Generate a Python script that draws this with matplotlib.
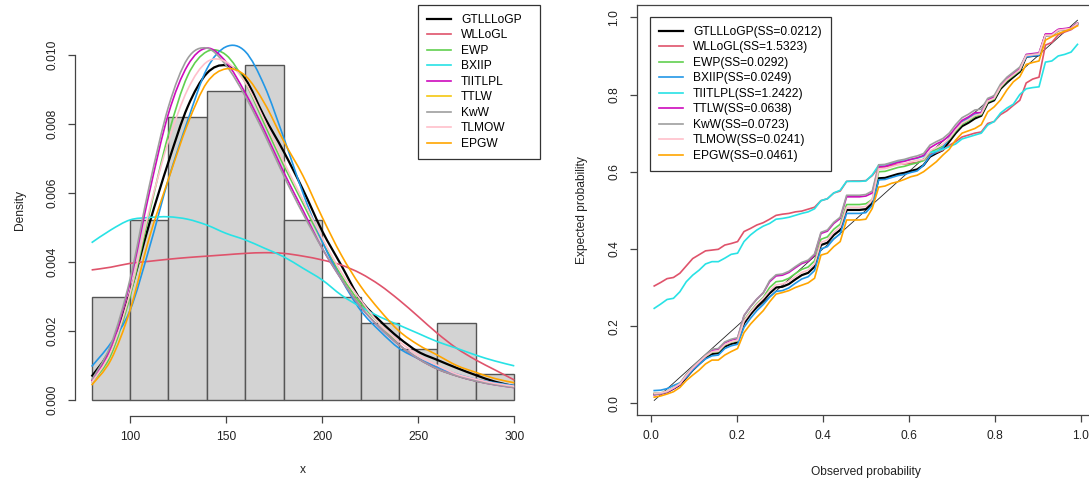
import matplotlib.pyplot as plt
import numpy as np
from matplotlib.path import Path
from matplotlib.patches import PathPatch
from matplotlib.lines import Line2D

plt.rcParams['font.family'] = ['Liberation Sans', 'DejaVu Sans']
FS = 8.64

# ---- histogram of the data (n = 67) ----
bin_edges = [80, 100, 120, 140, 160, 180, 200, 220, 240, 260, 280, 300]
bin_counts = [4, 7, 11, 12, 13, 7, 4, 3, 2, 3, 1]

# ---- fitted densities, evaluated on x = 80, 90, ..., 300 ----
grid_x = [80, 90, 100, 110, 120, 130, 140, 150, 160, 170, 180, 190,
          200, 210, 220, 230, 240, 250, 260, 270, 280, 290, 300]
dens_gtlllogp = [0.00068, 0.00150, 0.0031, 0.0051, 0.0069, 0.0085, 0.00947, 0.0097,
                 0.0093, 0.0082, 0.0072, 0.0061, 0.0049, 0.0039, 0.0029, 0.0023,
                 0.0018, 0.0014, 0.00116, 0.00093, 0.00072, 0.00053, 0.0004]
dens_wllogl = [0.00377, 0.00385, 0.00396, 0.00402, 0.00408, 0.00413, 0.00417, 0.00421,
               0.00425, 0.00427, 0.00425, 0.00417, 0.00406, 0.00391, 0.00367, 0.00333,
               0.0029, 0.00242, 0.00193, 0.0015, 0.00116, 0.00087, 0.00058]
dens_ewp = [0.0005, 0.0013, 0.0030, 0.0054, 0.0077, 0.0094, 0.0101, 0.0100,
            0.0092, 0.0080, 0.0068, 0.0057, 0.0046, 0.0036, 0.0028, 0.0022,
            0.0016, 0.0012, 0.0009, 0.0007, 0.00055, 0.00045, 0.00038]
dens_bxiip = [0.00097, 0.00165, 0.0026, 0.0044, 0.0064, 0.0081, 0.0096, 0.01024,
              0.0101, 0.0091, 0.0076, 0.0060, 0.0046, 0.0035, 0.0026, 0.0020,
              0.0015, 0.0012, 0.00095, 0.00075, 0.0006, 0.0005, 0.00042]
dens_tiitlpl = [0.00456, 0.00493, 0.00522, 0.00529, 0.00531, 0.00524, 0.00507, 0.00483,
                0.00464, 0.0044, 0.00415, 0.00382, 0.00348, 0.00304, 0.0027, 0.00241,
                0.00217, 0.00193, 0.00169, 0.0015, 0.0013, 0.00113, 0.00099]
dens_ttlw = [0.00055, 0.0015, 0.0034, 0.0060, 0.0083, 0.0097, 0.0102, 0.0098,
             0.0089, 0.0078, 0.0066, 0.0055, 0.0044, 0.0035, 0.0027, 0.0021,
             0.0016, 0.0012, 0.0009, 0.0007, 0.00055, 0.00044, 0.00036]
dens_kww = [0.00058, 0.0016, 0.0035, 0.0062, 0.0085, 0.0099, 0.0102, 0.0097,
            0.0088, 0.0077, 0.0065, 0.0054, 0.0044, 0.0035, 0.0027, 0.0021,
            0.0016, 0.0012, 0.0009, 0.0007, 0.00055, 0.00044, 0.00036]
dens_tlmow = [0.0005, 0.0014, 0.0031, 0.0055, 0.0075, 0.0090, 0.0098, 0.0098,
              0.0092, 0.0081, 0.0069, 0.0058, 0.0047, 0.0037, 0.0029, 0.0022,
              0.0017, 0.0013, 0.0010, 0.00075, 0.0006, 0.00048, 0.0004]
dens_epgw = [0.00043, 0.00116, 0.0026, 0.0047, 0.0064, 0.0080, 0.0092, 0.0096,
             0.0094, 0.0086, 0.0075, 0.0065, 0.0053, 0.0042, 0.0033, 0.0026,
             0.0020, 0.0016, 0.0013, 0.0010, 0.0008, 0.00062, 0.0005]

# ---- P-P plot: fitted cdf at the ordered sample ----
pp_gtlllogp = [0.024, 0.025, 0.029, 0.038, 0.048, 0.067, 0.086, 0.102, 0.117, 0.128,
               0.130, 0.147, 0.154, 0.158, 0.207, 0.230, 0.250, 0.266, 0.285, 0.300,
               0.302, 0.309, 0.321, 0.332, 0.338, 0.354, 0.410, 0.416, 0.436, 0.449,
               0.501, 0.501, 0.501, 0.503, 0.518, 0.583, 0.584, 0.589, 0.594, 0.597,
               0.602, 0.606, 0.617, 0.639, 0.648, 0.656, 0.678, 0.700, 0.718, 0.727,
               0.738, 0.745, 0.778, 0.785, 0.815, 0.833, 0.846, 0.859, 0.898, 0.900,
               0.902, 0.954, 0.954, 0.967, 0.969, 0.971, 0.984]
pp_wllogl = [0.304, 0.313, 0.323, 0.326, 0.337, 0.356, 0.375, 0.385, 0.395, 0.397,
             0.399, 0.410, 0.414, 0.419, 0.445, 0.453, 0.462, 0.468, 0.477, 0.487,
             0.490, 0.492, 0.496, 0.498, 0.503, 0.508, 0.525, 0.530, 0.545, 0.550,
             0.575, 0.576, 0.576, 0.577, 0.590, 0.612, 0.613, 0.616, 0.619, 0.620,
             0.622, 0.624, 0.630, 0.645, 0.650, 0.656, 0.668, 0.678, 0.690, 0.695,
             0.700, 0.703, 0.725, 0.730, 0.748, 0.758, 0.772, 0.785, 0.830, 0.840,
             0.845, 0.928, 0.935, 0.955, 0.962, 0.968, 0.980]
pp_ewp = [0.026, 0.027, 0.031, 0.040, 0.050, 0.071, 0.090, 0.106, 0.121, 0.132,
          0.134, 0.151, 0.158, 0.162, 0.215, 0.238, 0.258, 0.274, 0.300, 0.315,
          0.317, 0.324, 0.336, 0.347, 0.353, 0.369, 0.425, 0.431, 0.451, 0.464,
          0.515, 0.515, 0.515, 0.517, 0.528, 0.600, 0.601, 0.606, 0.611, 0.614,
          0.619, 0.623, 0.629, 0.650, 0.658, 0.666, 0.684, 0.705, 0.723, 0.732,
          0.743, 0.748, 0.781, 0.788, 0.818, 0.836, 0.849, 0.862, 0.900, 0.902,
          0.904, 0.954, 0.955, 0.967, 0.969, 0.972, 0.983]
pp_bxiip = [0.033, 0.034, 0.038, 0.046, 0.053, 0.067, 0.086, 0.101, 0.115, 0.123,
            0.125, 0.142, 0.149, 0.153, 0.197, 0.220, 0.240, 0.256, 0.275, 0.290,
            0.292, 0.299, 0.311, 0.322, 0.328, 0.344, 0.400, 0.406, 0.426, 0.439,
            0.492, 0.492, 0.492, 0.494, 0.513, 0.579, 0.580, 0.585, 0.590, 0.593,
            0.598, 0.602, 0.617, 0.641, 0.652, 0.662, 0.688, 0.710, 0.729, 0.739,
            0.749, 0.754, 0.786, 0.793, 0.822, 0.840, 0.853, 0.866, 0.898, 0.900,
            0.902, 0.953, 0.954, 0.966, 0.969, 0.971, 0.983]
pp_tiitlpl = [0.246, 0.257, 0.269, 0.272, 0.289, 0.315, 0.332, 0.345, 0.361, 0.367,
              0.367, 0.376, 0.386, 0.389, 0.419, 0.436, 0.449, 0.459, 0.466, 0.477,
              0.479, 0.482, 0.487, 0.492, 0.496, 0.504, 0.525, 0.530, 0.545, 0.552,
              0.575, 0.575, 0.575, 0.576, 0.592, 0.617, 0.618, 0.622, 0.626, 0.629,
              0.632, 0.635, 0.640, 0.650, 0.653, 0.658, 0.665, 0.672, 0.685, 0.690,
              0.695, 0.700, 0.721, 0.730, 0.752, 0.765, 0.775, 0.800, 0.815, 0.818,
              0.820, 0.884, 0.887, 0.900, 0.904, 0.910, 0.930]
pp_ttlw = [0.022, 0.024, 0.029, 0.038, 0.049, 0.072, 0.091, 0.107, 0.122, 0.138,
           0.140, 0.157, 0.164, 0.168, 0.227, 0.250, 0.270, 0.286, 0.315, 0.330,
           0.332, 0.339, 0.351, 0.362, 0.368, 0.384, 0.440, 0.446, 0.466, 0.479,
           0.535, 0.535, 0.535, 0.537, 0.545, 0.613, 0.614, 0.619, 0.624, 0.627,
           0.632, 0.636, 0.642, 0.662, 0.672, 0.680, 0.693, 0.714, 0.733, 0.742,
           0.753, 0.753, 0.786, 0.793, 0.823, 0.841, 0.854, 0.867, 0.904, 0.906,
           0.908, 0.957, 0.957, 0.969, 0.971, 0.973, 0.985]
pp_kww = [0.023, 0.025, 0.030, 0.040, 0.052, 0.075, 0.094, 0.110, 0.125, 0.140,
          0.142, 0.159, 0.166, 0.170, 0.227, 0.250, 0.270, 0.286, 0.318, 0.333,
          0.335, 0.342, 0.354, 0.365, 0.371, 0.387, 0.443, 0.449, 0.469, 0.482,
          0.539, 0.539, 0.539, 0.541, 0.550, 0.618, 0.619, 0.624, 0.629, 0.632,
          0.637, 0.641, 0.647, 0.669, 0.678, 0.686, 0.700, 0.722, 0.740, 0.749,
          0.760, 0.762, 0.790, 0.797, 0.827, 0.845, 0.858, 0.871, 0.902, 0.904,
          0.906, 0.952, 0.953, 0.965, 0.968, 0.971, 0.984]
pp_tlmow = [0.026, 0.027, 0.031, 0.040, 0.050, 0.072, 0.091, 0.107, 0.122, 0.133,
            0.135, 0.152, 0.159, 0.163, 0.213, 0.236, 0.256, 0.272, 0.292, 0.307,
            0.309, 0.316, 0.328, 0.339, 0.345, 0.361, 0.417, 0.423, 0.443, 0.456,
            0.508, 0.508, 0.508, 0.510, 0.528, 0.607, 0.608, 0.613, 0.618, 0.621,
            0.626, 0.630, 0.632, 0.654, 0.663, 0.671, 0.686, 0.708, 0.726, 0.735,
            0.746, 0.750, 0.783, 0.790, 0.820, 0.838, 0.851, 0.864, 0.901, 0.903,
            0.905, 0.954, 0.954, 0.967, 0.969, 0.971, 0.984]
pp_epgw = [0.016, 0.019, 0.024, 0.030, 0.041, 0.059, 0.073, 0.086, 0.102, 0.112,
           0.112, 0.125, 0.134, 0.142, 0.183, 0.205, 0.223, 0.240, 0.263, 0.283,
           0.287, 0.292, 0.300, 0.306, 0.312, 0.324, 0.384, 0.389, 0.406, 0.419,
           0.475, 0.475, 0.475, 0.477, 0.505, 0.560, 0.563, 0.570, 0.574, 0.580,
           0.587, 0.591, 0.600, 0.613, 0.626, 0.643, 0.658, 0.682, 0.700, 0.706,
           0.712, 0.722, 0.755, 0.768, 0.786, 0.812, 0.833, 0.846, 0.878, 0.883,
           0.887, 0.941, 0.950, 0.958, 0.964, 0.970, 0.978]

models = ['GTLLLoGP', 'WLLoGL', 'EWP', 'BXIIP', 'TIITLPL', 'TTLW', 'KwW', 'TLMOW', 'EPGW']
ss_values = [0.0212, 1.5323, 0.0292, 0.0249, 1.2422, 0.0638, 0.0723, 0.0241, 0.0461]

densities = [dens_gtlllogp, dens_wllogl, dens_ewp, dens_bxiip, dens_tiitlpl,
             dens_ttlw, dens_kww, dens_tlmow, dens_epgw]
pp_curves = [pp_gtlllogp, pp_wllogl, pp_ewp, pp_bxiip, pp_tiitlpl,
             pp_ttlw, pp_kww, pp_tlmow, pp_epgw]

# R palette colours
line_cols = ['#000000', '#DF536B', '#61D04F', '#2297E6', '#28E2E5',
             '#CD0BBC', '#9E9E9E', '#FFC0CB', '#FFA500']
hist_legend_cols = ['#000000', '#DF536B', '#61D04F', '#28E2E5', '#CD0BBC',
                    '#F5C710', '#9E9E9E', '#FFC0CB', '#FFA500']
line_w = [1.6, 1.2, 1.2, 1.2, 1.2, 1.2, 1.2, 1.2, 1.2]
AX_COL = '#444444'


def smooth_curve(ax, xs, ys, **kw):
    # cubic Bezier path through the points (Catmull-Rom tangents)
    xs = np.asarray(xs, float)
    ys = np.asarray(ys, float)
    n = len(xs)
    verts = [(xs[0], ys[0])]
    codes = [Path.MOVETO]
    for k in range(n - 1):
        xa, ya = (xs[k - 1], ys[k - 1]) if k > 0 else (xs[k], ys[k])
        xb, yb = (xs[k + 2], ys[k + 2]) if k + 2 < n else (xs[k + 1], ys[k + 1])
        c1 = (xs[k] + (xs[k + 1] - xa) / 6, ys[k] + (ys[k + 1] - ya) / 6)
        c2 = (xs[k + 1] - (xb - xs[k]) / 6, ys[k + 1] - (yb - ys[k]) / 6)
        verts += [c1, c2, (xs[k + 1], ys[k + 1])]
        codes += [Path.CURVE4] * 3
    ax.add_patch(PathPatch(Path(verts, codes), fill=False, **kw))


W, H = 1089, 482
fig = plt.figure(figsize=(W / 100, H / 100), dpi=100)


def px_rect(x0, y0, x1, y1):
    return [x0 / W, 1 - y1 / H, (x1 - x0) / W, (y1 - y0) / H]


legend_style = dict(fontsize=FS, frameon=True, fancybox=False, framealpha=1,
                    edgecolor='#333333', borderaxespad=0, borderpad=0.75,
                    labelspacing=0.29, handlelength=2.0, handletextpad=0.85)

# ---------------- left: histogram + densities ----------------
ax1 = fig.add_axes(px_rect(74.7, 5, 531.2, 416))
n_obs = sum(bin_counts)
widths = np.diff(bin_edges)
heights = np.array(bin_counts) / (n_obs * widths)
ax1.bar(bin_edges[:-1], heights, width=widths, align='edge',
        color='#D3D3D3', edgecolor='#555555', linewidth=1.0)
for dens, col, lw in zip(densities, line_cols, line_w):
    smooth_curve(ax1, grid_x, dens, edgecolor=col, linewidth=lw, zorder=3)

ax1.set_xlim(71.2, 308.8)
ax1.set_ylim(-0.000464, 0.01145)
ax1.spines['top'].set_visible(False)
ax1.spines['right'].set_visible(False)
ax1.spines['left'].set_bounds(0, 0.010)
ax1.spines['bottom'].set_bounds(100, 300)
for s in ('left', 'bottom'):
    ax1.spines[s].set_color(AX_COL)
    ax1.spines[s].set_linewidth(0.9)
ax1.set_xticks([100, 150, 200, 250, 300])
ax1.set_yticks([0.000, 0.002, 0.004, 0.006, 0.008, 0.010])
ax1.set_yticklabels(['0.000', '0.002', '0.004', '0.006', '0.008', '0.010'],
                    rotation=90, va='center')
ax1.tick_params(length=5, width=0.9, color=AX_COL, labelsize=FS, labelcolor='#222222')
ax1.tick_params(axis='x', pad=6)
ax1.tick_params(axis='y', pad=7)

handles1 = [Line2D([], [], color=c, lw=w) for c, w in zip(hist_legend_cols, line_w)]
leg1 = fig.legend(handles1, models, loc='upper left', mode='expand',
                  bbox_to_anchor=(418 / W, 1 - 160 / H, 122 / W, 155 / H),
                  **legend_style)
leg1.get_frame().set_linewidth(0.9)

fig.text(20 / W, 1 - 210 / H, 'Density', rotation=90, ha='center', va='center',
         fontsize=FS, color='#222222')
fig.text(303 / W, 1 - 470 / H, 'x', ha='center', va='center', fontsize=FS, color='#222222')

# ---------------- right: P-P plot ----------------
ax2 = fig.add_axes(px_rect(636.7, 5, 1096, 415))
n_pp = len(pp_gtlllogp)
obs_p = (np.arange(1, n_pp + 1) - 0.5) / n_pp
ax2.plot(obs_p, obs_p, color='#222222', lw=0.6, zorder=1)
for pp, col, lw in zip(pp_curves, line_cols, line_w):
    ax2.plot(obs_p, pp, color=col, lw=lw, zorder=2)

ax2.set_xlim(-0.0333, 1.0356)
ax2.set_ylim(-0.0303, 1.032)
for s in ax2.spines.values():
    s.set_color(AX_COL)
    s.set_linewidth(0.9)
ax2.set_xticks([0.0, 0.2, 0.4, 0.6, 0.8, 1.0])
ax2.set_yticks([0.0, 0.2, 0.4, 0.6, 0.8, 1.0])
ax2.set_xticklabels(['0.0', '0.2', '0.4', '0.6', '0.8', '1.0'])
ax2.set_yticklabels(['0.0', '0.2', '0.4', '0.6', '0.8', '1.0'], rotation=90, va='center')
ax2.tick_params(length=5, width=0.9, color=AX_COL, labelsize=FS, labelcolor='#222222')
ax2.tick_params(axis='x', pad=6)
ax2.tick_params(axis='y', pad=7)

labels2 = [f'{m}(SS={s:.4f})' for m, s in zip(models, ss_values)]
handles2 = [Line2D([], [], color=c, lw=w) for c, w in zip(line_cols, line_w)]
leg2 = fig.legend(handles2, labels2, loc='upper left',
                  bbox_to_anchor=(650 / W, 1 - 17 / H), **legend_style)
leg2.get_frame().set_linewidth(0.9)

fig.text(582 / W, 1 - 210 / H, 'Expected probability', rotation=90,
         ha='center', va='center', fontsize=FS, color='#222222')
fig.text(866 / W, 1 - 472 / H, 'Observed probability', ha='center', va='center',
         fontsize=FS, color='#222222')

fig.savefig('out.png', dpi=100)
